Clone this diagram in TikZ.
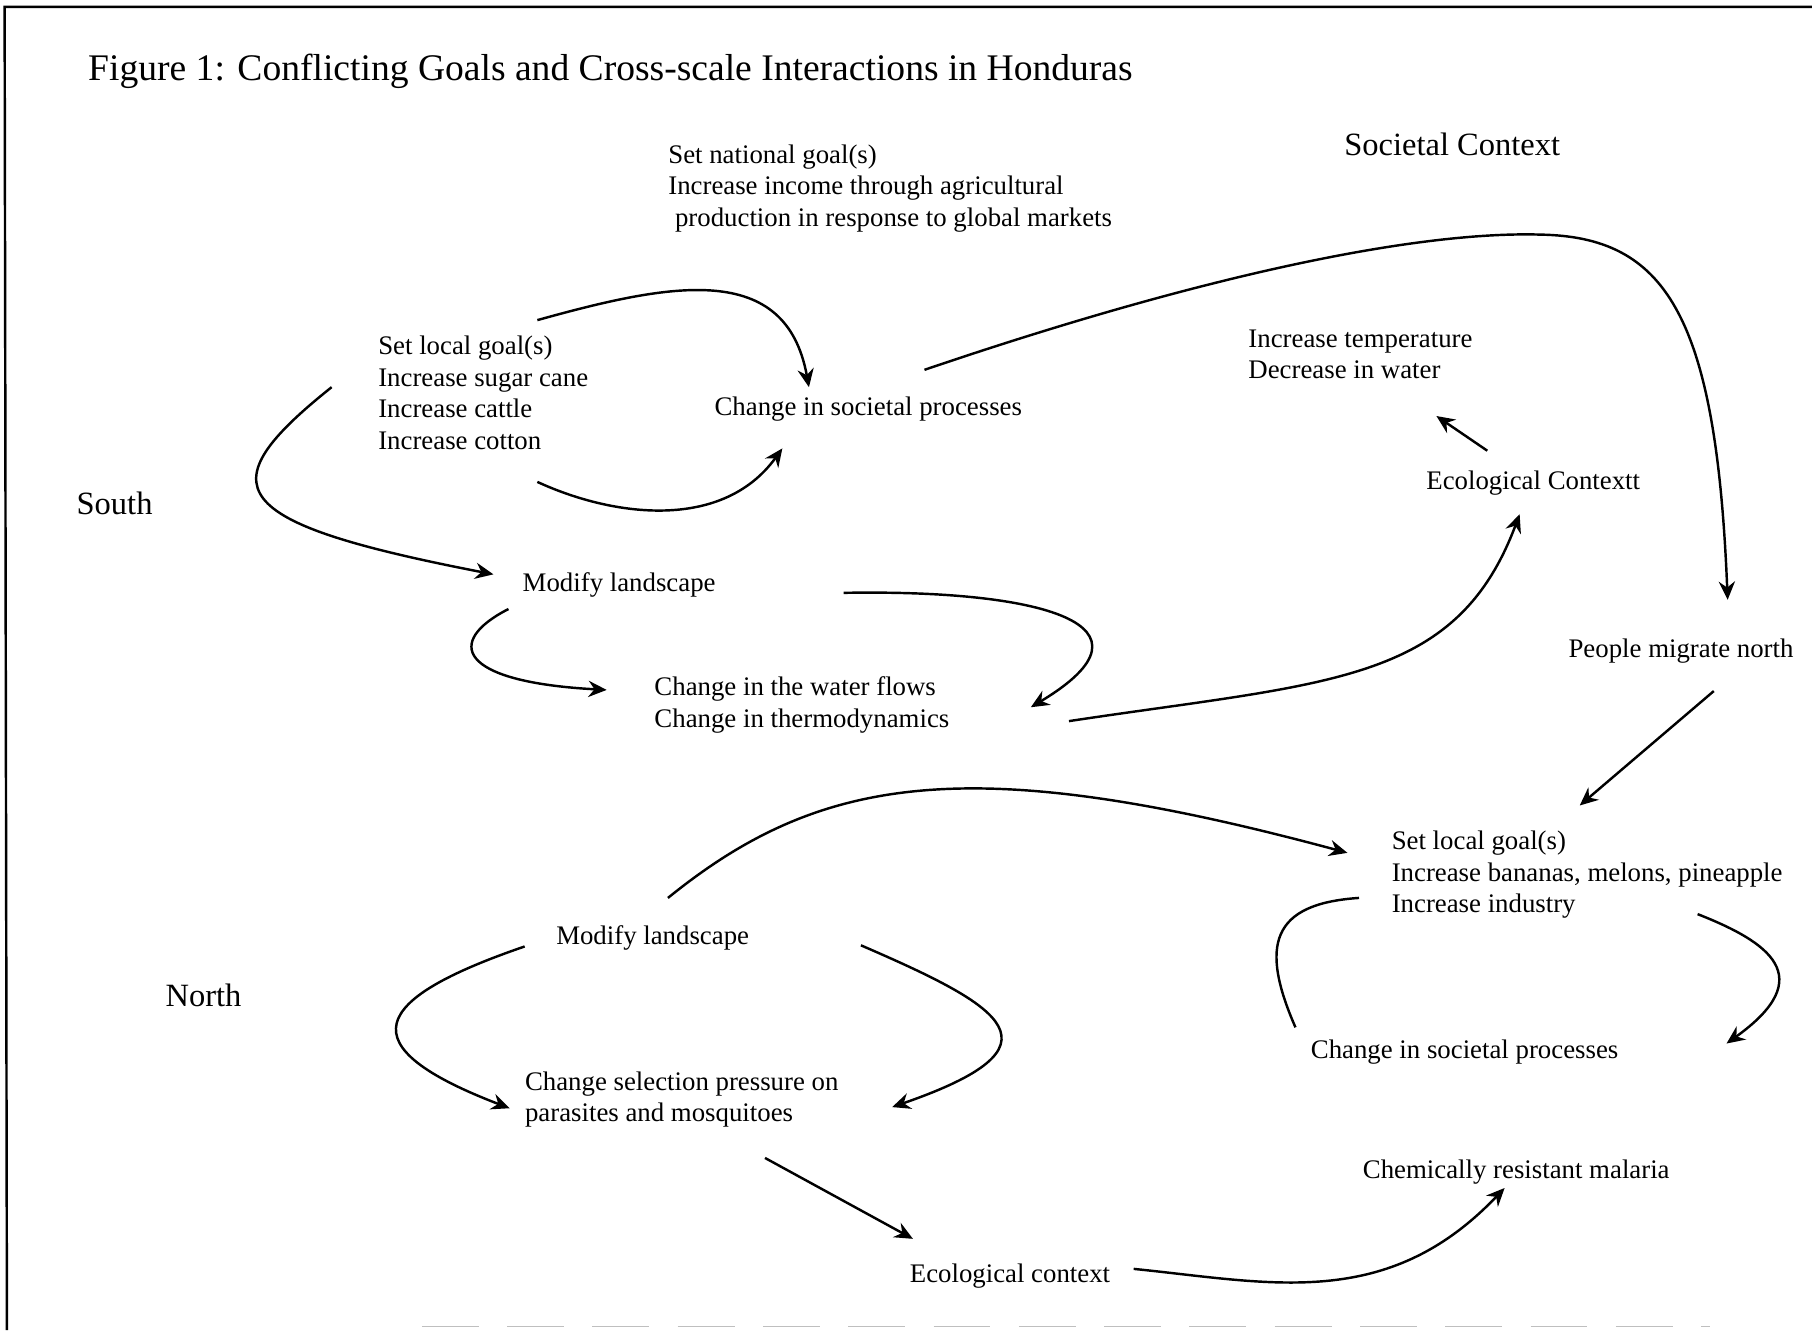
\documentclass[tikz,border=0pt]{standalone}
\usepackage{fontspec}
\setmainfont{Liberation Serif}
\usetikzlibrary{arrows.meta}
\newcommand\bodyfont{\fontsize{13.2}{15.6}\selectfont}
\newcommand\headfont{\fontsize{16}{19}\selectfont}
\newcommand\titlefont{\fontsize{18.5}{22}\selectfont}
\tikzset{
  lbl/.style={anchor=west, inner sep=0pt, align=left, font=\bodyfont},
  head/.style={anchor=west, inner sep=0pt, font=\headfont},
  conn/.style={-{Stealth[length=9pt,width=8pt,inset=3pt]}, line width=1.2pt},
}
\begin{document}
\begin{tikzpicture}[x=0.2mm,y=-0.2mm]
  \useasboundingbox (0,0) rectangle (1568,1151);
  % frame of the scan
  \draw[line width=1.2pt] (1568,6) -- (4,6) -- (6,1151);
  \draw[gray!50, line width=0.8pt, dash pattern=on 28pt off 14pt] (365,1148) -- (1480,1148);

  \node[anchor=west, inner sep=0pt, font=\titlefont] (title) at (76,62)
    {Figure 1: Conflicting Goals and Cross-scale Interactions in Honduras};
  \node[head] (soc) at (1163,125) {Societal Context};
  \node[head] (south) at (66,436) {South};
  \node[head] (north) at (143,861) {North};

  % south
  \node[lbl] (natgoal) at (578,163) {Set national goal(s)\\Increase income through agricultural\\\hspace*{0.25em}production in response to global markets};
  \node[lbl] (slgS) at (327,340) {Set local goal(s)\\Increase sugar cane\\Increase cattle\\Increase cotton};
  \node[lbl] (cspS) at (618,354) {Change in societal processes};
  \node[lbl] (temp) at (1080,306.5) {Increase temperature\\Decrease in water};
  \node[lbl] (ecoS) at (1234,418) {Ecological Contextt};
  \node[lbl] (modS) at (452,506) {Modify landscape};
  \node[lbl] (water) at (566,610) {Change in the water flows\\Change in thermodynamics};
  \node[lbl] (migrate) at (1357,563) {People migrate north};

  % north
  \node[lbl] (slgN) at (1204,757) {Set local goal(s)\\Increase bananas, melons, pineapple\\Increase industry};
  \node[lbl] (modN) at (481,812) {Modify landscape};
  \node[lbl] (cspN) at (1134,910) {Change in societal processes};
  \node[lbl] (sel) at (454,951.5) {Change selection pressure on\\parasites and mosquitoes};
  \node[lbl] (malaria) at (1179,1014) {Chemically resistant malaria};
  \node[lbl] (ecoN) at (787,1104) {Ecological context};

  \begin{scope}[conn]
    \draw ([shift={(138,-63)}]slgS.west) .. controls (580,245) and (680,225) .. ([shift={(82,-19)}]cspS.west);
    \draw ([shift={(138,77)}]slgS.west) .. controls (530,447) and (625,460) .. ([shift={(59,34)}]cspS.west);
    \draw ([shift={(-40,-5)}]slgS.west) .. controls (178,422) and (195,452) .. ([shift={(-25,-9)}]modS.west);
    \draw ([shift={(-12,21)}]modS.west) .. controls (385,555) and (395,590) .. ([shift={(-41,-13)}]water.west);
    \draw ([shift={(278,7)}]modS.west) .. controls (900,510) and (1012,540) .. ([shift={(326,2)}]water.west);
    \draw ([shift={(359,14)}]water.west) .. controls (1150,590) and (1260,592) .. ([shift={(81,27)}]ecoS.west);
    \draw ([shift={(53,-28)}]ecoS.west) -- ([shift={(163,53.5)}]temp.west);
    \draw ([shift={(182,-34)}]cspS.west) .. controls (1050,235) and (1230,200) .. (1333,203)
      .. controls (1440,205) and (1485,270) .. ([shift={(138,-44)}]migrate.west);
    \draw ([shift={(126,35)}]migrate.west) -- ([shift={(163,-60)}]slgN.west);
    \draw ([shift={(97,-35)}]modN.west) .. controls (710,670) and (840,650) .. ([shift={(-38,-19)}]slgN.west);
    \draw[-] ([shift={(-28,20)}]slgN.west) .. controls (1100,782) and (1090,818) .. ([shift={(-13,-21)}]cspN.west);
    \draw ([shift={(265,34)}]slgN.west) .. controls (1530,815) and (1575,845) .. ([shift={(360,-7)}]cspN.west);
    \draw ([shift={(-27,7)}]modN.west) .. controls (320,865) and (300,905) .. ([shift={(-13,7.5)}]sel.west);
    \draw ([shift={(264,6)}]modN.west) .. controls (870,872) and (925,905) .. ([shift={(318,6.5)}]sel.west);
    \draw ([shift={(208,50.5)}]sel.west) -- ([shift={(3,-32)}]ecoN.west);
    \draw ([shift={(194,-6)}]ecoN.west) .. controls (1100,1110) and (1200,1135) .. ([shift={(123,14)}]malaria.west);
  \end{scope}
\end{tikzpicture}
\end{document}
